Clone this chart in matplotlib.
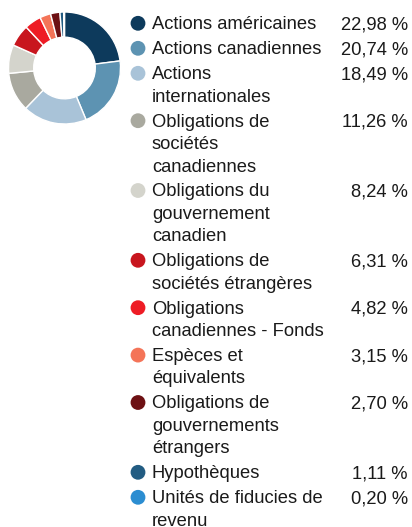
import matplotlib
matplotlib.use("Agg")
import matplotlib.pyplot as plt
from matplotlib.patches import Circle

plt.rcParams['font.family'] = ['Liberation Sans', 'DejaVu Sans']

categories = [
    "Actions américaines",
    "Actions canadiennes",
    "Actions\ninternationales",
    "Obligations de\nsociétés\ncanadiennes",
    "Obligations du\ngouvernement\ncanadien",
    "Obligations de\nsociétés étrangères",
    "Obligations\ncanadiennes - Fonds",
    "Espèces et\néquivalents",
    "Obligations de\ngouvernements\nétrangers",
    "Hypothèques",
    "Unités de fiducies de\nrevenu",
]
values = [22.98, 20.74, 18.49, 11.26, 8.24, 6.31, 4.82, 3.15, 2.70, 1.11, 0.20]
colors = ["#0d3a5c", "#5d93b2", "#a9c3d8", "#a9a99f", "#d4d4cc", "#c8161e",
          "#ee1c25", "#f47458", "#6d1013", "#225c82", "#2b8dd1"]

W, H = 412, 527
fig = plt.figure(figsize=(W / 100, H / 100), dpi=100)

# Donut chart
cx, cy, r = 64.5, 68, 56
ax = fig.add_axes([(cx - r) / W, 1 - (cy + r) / H, 2 * r / W, 2 * r / H])
ax.pie(values, colors=colors, startangle=90, counterclock=False, radius=1.0,
       wedgeprops=dict(width=0.45, edgecolor="white", linewidth=1.0))
ax.set_xlim(-1.0, 1.0)
ax.set_ylim(-1.0, 1.0)
ax.set_aspect("equal")
ax.axis("off")

# Legend with values
lax = fig.add_axes([0, 0, 1, 1])
lax.set_xlim(0, W)
lax.set_ylim(H, 0)
lax.axis("off")

fs = 13.2
line_h = 22.4
gap = 2.6
baseline = 29.3
text_x = 152
marker_x = 138
value_x = 408
for label, val, col in zip(categories, values, colors):
    lines = label.split("\n")
    lax.add_patch(Circle((marker_x, baseline - 6.0), 7.4, color=col, lw=0))
    for i, ln in enumerate(lines):
        lax.text(text_x, baseline + i * line_h, ln, fontsize=fs, color="#1a1a1a",
                 ha="left", va="baseline")
    lax.text(value_x, baseline, f"{val:.2f} %".replace(".", ","), fontsize=fs,
             color="#1a1a1a", ha="right", va="baseline")
    baseline += len(lines) * line_h + gap

fig.savefig("out.png", dpi=100)
